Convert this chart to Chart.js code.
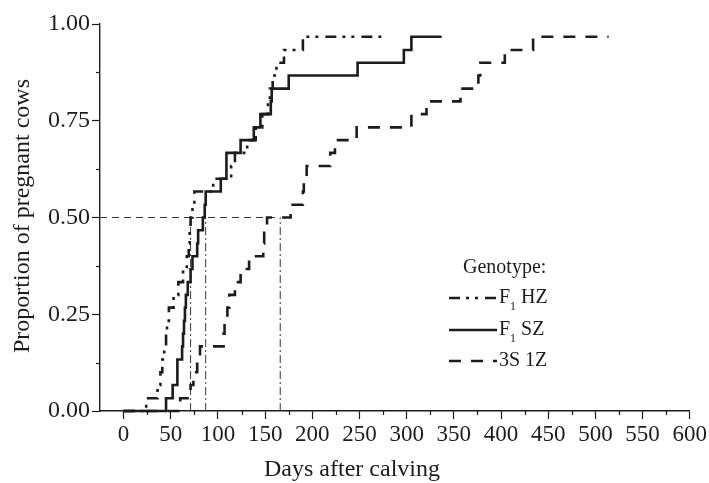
<!DOCTYPE html>
<html>
<head>
<meta charset="utf-8">
<script src="https://cdn.jsdelivr.net/npm/chart.js@4.4.1/dist/chart.umd.min.js"></script>
<style>
  html, body { margin:0; padding:0; background:#fff; }
  #wrap { width:709px; height:483px; position:relative; }
</style>
</head>
<body>
<div id="wrap"><canvas id="km"></canvas></div>
<script>
/* Proportion of pregnant cows vs days after calving, by genotype */
const hzDays = [0, 24, 36, 39, 41, 43, 45, 46, 48, 53, 58, 63, 67, 69, 70, 71, 73, 75, 95, 114, 118, 131, 140, 147, 153, 155, 158, 162, 170, 190, 279];
const hzProp = [0, .033, .067, .1, .133, .167, .2, .233, .267, .3, .333, .367, .4, .433, .467, .5, .533, .567, .6, .633, .667, .7, .733, .767, .8, .833, .867, .9, .933, .967, .967];

const szDays = [0, 45, 52, 57, 62, 63, 64, 65, 66, 68, 71, 73, 78, 79, 84, 86, 87, 103, 109, 124, 138, 145, 156, 157, 175, 248, 297, 305, 337];
const szProp = [0, .033, .067, .133, .167, .2, .233, .267, .3, .333, .367, .4, .433, .467, .5, .533, .567, .6, .667, .7, .733, .767, .8, .833, .867, .9, .933, .967, .967];

const s3Days = [0, 60, 71, 74, 78, 81, 106, 107, 110, 112, 118, 124, 133, 148, 149, 152, 177, 190, 191, 194, 219, 224, 247, 305, 321, 357, 376, 378, 404, 434, 514];
const s3Prop = [0, .033, .067, .1, .133, .167, .2, .233, .267, .3, .333, .367, .4, .433, .467, .5, .533, .567, .6, .633, .667, .7, .733, .767, .8, .833, .867, .9, .933, .967, .967];

const medianDays = [71, 87, 166];
const halfLevel = 0.5;
const genotypes = [['F', '1', ' HZ'], ['F', '1', ' SZ'], ['3S 1Z', '', '']];

const ink = '#1c1c1c';
const serif = '"Liberation Serif", "Times New Roman", serif';

const pts = (days, prop) => days.map((d, i) => ({ x: d, y: prop[i] }));
// 'before' = horizontal run first, then the jump (Kaplan-Meier style)
const curve = { pointRadius: 0, borderWidth: 2.6, stepped: 'before', fill: false, borderColor: ink, borderCapStyle: 'butt', clip: false, order: 1 };
const dashes = { hz: [11, 6, 3, 6, 3, 7], sz: [], s3: [12, 10] };

const datasets = [
  { ...curve, label: 'F1 HZ', data: pts(hzDays, hzProp), borderDash: dashes.hz },
  { ...curve, label: 'F1 SZ', data: pts(szDays, szProp), borderDash: dashes.sz },
  { ...curve, label: '3S 1Z', data: pts(s3Days, s3Prop), borderDash: dashes.s3 },
  { label: 'half', data: [{ x: -25, y: halfLevel }, { x: medianDays[2], y: halfLevel }],
    pointRadius: 0, borderWidth: 1, borderColor: '#3a3a3a', borderDash: [7, 5], order: 2 }
].concat(medianDays.map(m => ({
  label: 'median', data: [{ x: m, y: 0 }, { x: m, y: halfLevel }],
  pointRadius: 0, borderWidth: 1, borderColor: '#3a3a3a', borderDash: [8, 3, 2, 3], order: 2
})));

// short minor ticks, axis titles and the legend block
const extras = {
  id: 'extras',
  afterDraw(chart) {
    const { ctx, scales: { x, y } } = chart;
    ctx.save();
    ctx.strokeStyle = ink; ctx.lineWidth = 1.2;
    x.ticks.forEach(t => {
      if (t.value > -25 && t.value % 50 !== 0) {
        const px = Math.round(x.getPixelForValue(t.value)) + .5;
        ctx.beginPath(); ctx.moveTo(px, y.bottom); ctx.lineTo(px, y.bottom + 4); ctx.stroke();
      }
    });
    y.ticks.forEach(t => {
      if (Math.abs(t.value * 4 - Math.round(t.value * 4)) > 1e-6) {
        const py = Math.round(y.getPixelForValue(t.value)) + .5;
        ctx.beginPath(); ctx.moveTo(x.left, py); ctx.lineTo(x.left - 4, py); ctx.stroke();
      }
    });

    ctx.fillStyle = ink;
    ctx.font = '24px ' + serif;
    ctx.textAlign = 'center'; ctx.textBaseline = 'middle';
    ctx.fillText('Days after calving', 352, 470);
    ctx.save();
    ctx.translate(23, 216); ctx.rotate(-Math.PI / 2);
    ctx.fillText('Proportion of pregnant cows', 0, 0);
    ctx.restore();

    // legend
    ctx.textAlign = 'left';
    ctx.font = '20px ' + serif;
    ctx.fillText('Genotype:', 463, 268);
    const rows = [298, 330, 361];
    rows.forEach((ry, i) => {
      const ds = chart.data.datasets[i];
      ctx.setLineDash(ds.borderDash || []);
      ctx.lineWidth = ds.borderWidth;
      ctx.beginPath(); ctx.moveTo(449, ry); ctx.lineTo(497, ry); ctx.stroke();
      ctx.setLineDash([]);
      const [a, sub, b] = genotypes[i];
      let tx = 499;
      ctx.font = '20px ' + serif;
      ctx.fillText(a, tx, ry); tx += ctx.measureText(a).width;
      if (sub) {
        ctx.font = '12px ' + serif;
        ctx.fillText(sub, tx, ry + 9); tx += ctx.measureText(sub).width;
      }
      ctx.font = '20px ' + serif;
      ctx.fillText(b, tx, ry);
    });
    ctx.restore();
  }
};

const isMajorX = v => v >= 0 && v % 50 === 0;
const isMajorY = v => Math.abs(v * 4 - Math.round(v * 4)) < 1e-6;

new Chart(document.getElementById('km'), {
  type: 'line',
  data: { datasets },
  options: {
    responsive: true, maintainAspectRatio: false, animation: false,
    layout: { padding: { top: 24, right: 19, left: 0, bottom: 0 } },
    plugins: { legend: { display: false }, tooltip: { enabled: false } },
    scales: {
      x: {
        type: 'linear', min: -25, max: 600,
        afterFit: s => { s.height = 72; },
        border: { color: ink, width: 1.4 },
        grid: { drawOnChartArea: false, drawTicks: true, tickLength: 8, tickWidth: 1.2,
          tickColor: c => (c.tick && isMajorX(c.tick.value)) ? ink : 'rgba(0,0,0,0)' },
        ticks: { stepSize: 25, autoSkip: false, maxRotation: 0, padding: 2, color: ink,
          font: { family: serif, size: 23 },
          callback: v => isMajorX(v) ? String(v) : '' }
      },
      y: {
        min: 0, max: 1,
        afterFit: s => { s.width = 100; },
        border: { color: ink, width: 1.4 },
        grid: { drawOnChartArea: false, drawTicks: true, tickLength: 8, tickWidth: 1.2,
          tickColor: c => (c.tick && isMajorY(c.tick.value)) ? ink : 'rgba(0,0,0,0)' },
        ticks: { stepSize: 0.125, autoSkip: false, padding: 2, color: ink,
          font: { family: serif, size: 24 },
          callback: v => isMajorY(v) ? v.toFixed(2) : '' }
      }
    }
  },
  plugins: [extras]
});
</script>
</body>
</html>
